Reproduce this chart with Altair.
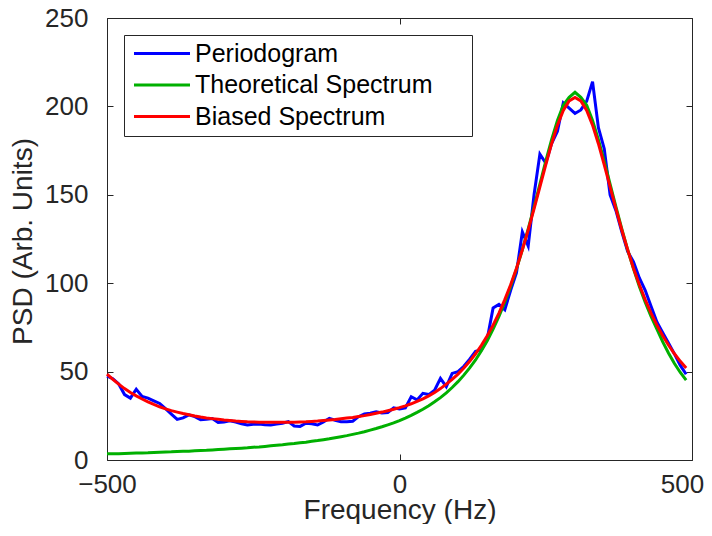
import altair as alt
import pandas as pd

# Frequency grid (Hz)
FREQ = list(range(-500, 500, 10))

PERIODOGRAM = [
    47.5, 46.0, 43.0, 37.0, 35.0, 40.0, 36.0, 35.0, 33.5, 32.0,
    29.0, 26.0, 23.0, 23.8, 25.5, 24.5, 22.8, 23.0, 23.5, 21.2,
    21.5, 22.2, 21.5, 20.5, 19.8, 20.2, 20.3, 20.0, 19.8, 20.3,
    20.8, 21.7, 19.2, 19.0, 20.8, 20.5, 19.8, 21.5, 23.6, 22.5,
    21.7, 21.7, 21.9, 24.5, 26.0, 26.5, 27.3, 26.6, 26.8, 29.5,
    28.8, 29.5, 35.8, 34.0, 37.7, 37.0, 39.5, 46.2, 41.5, 49.0,
    50.0, 53.0, 57.0, 61.5, 62.2, 68.5, 86.0, 88.0, 85.0, 96.0,
    106.0, 129.0, 121.0, 150.0, 173.0, 168.0, 179.0, 186.0, 202.0, 199.0,
    196.0, 198.0, 203.0, 214.0, 188.0, 176.0, 150.0, 141.0, 129.0, 118.0,
    112.0, 103.0, 96.0, 87.0, 78.0, 72.0, 66.0, 60.0, 53.5, 48.5,
]

THEORETICAL = [
    3.5, 3.5, 3.6, 3.7, 3.8, 3.9, 4.0, 4.1, 4.3, 4.4,
    4.5, 4.6, 4.8, 4.9, 5.0, 5.2, 5.4, 5.5, 5.7, 5.9,
    6.1, 6.3, 6.5, 6.7, 6.9, 7.2, 7.4, 7.7, 8.0, 8.3,
    8.6, 9.0, 9.3, 9.7, 10.1, 10.6, 11.0, 11.5, 12.0, 12.6,
    13.2, 13.8, 14.5, 15.2, 16.0, 16.9, 17.8, 18.8, 19.9, 21.0,
    22.3, 23.7, 25.2, 26.9, 28.7, 30.7, 32.9, 35.3, 38.0, 41.0,
    44.3, 48.0, 52.1, 56.6, 61.8, 67.5, 74.0, 81.2, 89.2, 98.2,
    108.1, 118.9, 130.7, 143.2, 156.1, 169.0, 181.2, 192.0, 200.6, 205.1,
    208.0, 205.1, 200.6, 192.0, 181.2, 169.0, 156.1, 143.2, 130.7, 118.9,
    108.1, 98.2, 89.2, 81.2, 74.0, 66.8, 60.4, 54.6, 49.5, 45.2,
]

BIASED = [
    48.6, 45.6, 42.9, 40.4, 38.2, 36.3, 34.5, 32.9, 31.4, 30.1,
    28.9, 27.9, 27.1, 26.3, 25.6, 24.9, 24.3, 23.8, 23.4, 23.0,
    22.6, 22.3, 22.0, 21.8, 21.6, 21.5, 21.4, 21.3, 21.3, 21.3,
    21.3, 21.3, 21.4, 21.5, 21.6, 21.8, 22.0, 22.3, 22.6, 22.9,
    23.3, 23.7, 24.1, 24.6, 25.1, 25.7, 26.4, 27.1, 27.9, 28.7,
    29.6, 30.6, 31.8, 33.1, 34.6, 36.3, 38.2, 40.4, 42.9, 45.6,
    48.6, 52.0, 55.8, 60.1, 64.9, 70.3, 76.3, 83.1, 90.7, 99.1,
    108.5, 118.9, 130.1, 142.1, 154.5, 167.0, 178.9, 189.4, 197.7, 203.1,
    205.0, 203.1, 197.7, 189.4, 178.9, 167.0, 154.5, 142.1, 130.1, 118.9,
    108.5, 99.1, 90.7, 83.1, 76.3, 70.3, 64.9, 60.1, 55.8, 52.0,
]

SERIES = ["Periodogram", "Theoretical Spectrum", "Biased Spectrum"]
COLORS = ["#0000FF", "#00B000", "#FF0000"]
X_TICKS = [-500, 0, 500]
Y_TICKS = [0, 50, 100, 150, 200, 250]

W, H = 585, 442
FONT = "Liberation Sans"
AX = "#262626"

frames = []
for name, vals in zip(SERIES, [PERIODOGRAM, THEORETICAL, BIASED]):
    frames.append(pd.DataFrame({"f": FREQ, "v": vals, "series": name}))

xs = alt.Scale(domain=[-500, 500], nice=False, zero=False)
ys = alt.Scale(domain=[0, 250], nice=False, zero=True)
cs = alt.Scale(domain=SERIES, range=COLORS)

# legend key: a short line sample; the trailing move widens the legend frame
legend = alt.Legend(
    title=None, orient="none", legendX=17, legendY=17,
    symbolType="M-0.773,0H4.318M28.86,0", symbolSize=484, symbolStrokeWidth=3,
    labelFont=FONT, labelFontSize=25, labelColor="black", labelLimit=600,
    labelOffset=40, padding=6, rowPadding=5.5,
    fillColor="white", strokeColor=AX,
)

main_x = alt.Axis(values=X_TICKS, ticks=False, tickSize=0, domain=False, grid=False,
                  labelFont=FONT, labelFontSize=26, labelColor=AX, labelPadding=11,
                  labelFlush=False,
                  labelOffset={"condition": {"test": "datum.value == 500", "value": -10}, "value": 0},
                  titleFont=FONT, titleFontSize=28, titleColor=AX,
                  titleFontWeight="normal", titleY=58, titleBaseline="alphabetic")
main_y = alt.Axis(values=Y_TICKS, ticks=False, tickSize=0, domain=False, grid=False,
                  labelFont=FONT, labelFontSize=26, labelColor=AX, labelPadding=19,
                  titleFont=FONT, titleFontSize=28, titleColor=AX, titleFontWeight="normal",
                  titleX=-84, titleY=223, titleBaseline="middle", titleAngle=270)


def tick_axis(orient, offset, values):
    return alt.Axis(orient=orient, offset=offset, values=values, labels=False,
                    domain=False, grid=False, ticks=True, tickSize=6,
                    tickColor=AX, tickWidth=1)


def layer(i, xaxis, yaxis, xtitle=None, ytitle=None):
    return alt.Chart(frames[i]).mark_line(strokeWidth=3).encode(
        x=alt.X("f:Q", scale=xs, axis=xaxis, title=xtitle),
        y=alt.Y("v:Q", scale=ys, axis=yaxis, title=ytitle),
        color=alt.Color("series:N", scale=cs, legend=legend),
    )


l0 = layer(0, main_x, main_y, "Frequency (Hz)", "PSD (Arb. Units)")
l1 = layer(1, tick_axis("top", -H, X_TICKS), tick_axis("right", -W, Y_TICKS))
l2 = layer(2, tick_axis("bottom", -H, X_TICKS), tick_axis("left", -W, Y_TICKS))

chart = alt.layer(l0, l1, l2).resolve_axis(x="independent", y="independent").properties(
    width=W, height=H,
    padding={"left": 99, "top": 10, "right": 12, "bottom": 64},
    autosize=alt.AutoSizeParams(type="none"),
    background="white",
).configure_view(stroke=AX, strokeWidth=1)

chart.save("out.html", embed_options={"renderer": "svg", "actions": False})
